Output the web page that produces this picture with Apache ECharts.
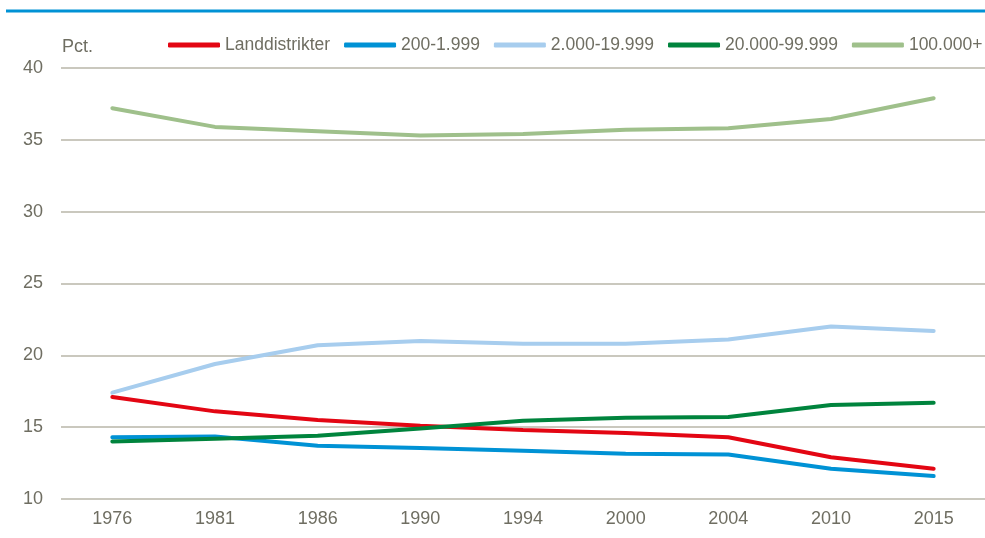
<!DOCTYPE html>
<html>
<head>
<meta charset="utf-8">
<script src="https://cdn.jsdelivr.net/npm/echarts@6/dist/echarts.min.js"></script>
<style>
  html, body { margin: 0; padding: 0; background: #fff; }
  #chart { width: 985px; height: 538px; }
</style>
</head>
<body>
<div id="chart"></div>
<script>
var years = ['1976', '1981', '1986', '1990', '1994', '2000', '2004', '2010', '2015'];
var seriesNames = ['Landdistrikter', '200-1.999', '2.000-19.999', '20.000-99.999', '100.000+'];
var landdistrikter = [17.1, 16.1, 15.5, 15.1, 14.8, 14.6, 14.3, 12.9, 12.1];
var by200 = [14.3, 14.35, 13.7, 13.55, 13.35, 13.15, 13.1, 12.1, 11.6];
var by2000 = [17.4, 19.4, 20.7, 21.0, 20.8, 20.8, 21.1, 22.0, 21.7];
var by20000 = [14.0, 14.2, 14.4, 14.9, 15.45, 15.65, 15.7, 16.55, 16.7];
var by100000 = [37.2, 35.9, 35.6, 35.3, 35.4, 35.7, 35.8, 36.45, 37.9];
var colors = ['#e30613', '#0092d5', '#a7cdee', '#00843d', '#9fc08b'];

var font = 'Liberation Sans, Arial, sans-serif';
var textColor = '#6f6e62';

var myChart = echarts.init(document.getElementById('chart'));

function line(name, data, color) {
  return {
    name: name,
    type: 'line',
    data: data,
    showSymbol: false,
    symbol: 'none',
    lineStyle: { width: 4, color: color, cap: 'round' },
    itemStyle: { color: color }
  };
}

var option = {
  animation: false,
  color: colors,
  title: {
    text: 'Pct.',
    left: 57,
    top: 33,
    textStyle: { fontFamily: font, fontSize: 18, fontWeight: 'normal', color: textColor }
  },
  legend: {
    data: seriesNames,
    left: 168,
    top: 36,
    width: 900,
    padding: 0,
    icon: 'roundRect',
    itemWidth: 52,
    itemHeight: 5,
    itemGap: 14,
    textStyle: { fontFamily: font, fontSize: 17.5, color: textColor }
  },
  grid: { left: 61, top: 68, width: 929, height: 431 },
  xAxis: {
    type: 'category',
    data: years,
    boundaryGap: true,
    axisLine: { show: false },
    axisTick: { show: false },
    axisLabel: { fontFamily: font, fontSize: 18, color: textColor, margin: 11 }
  },
  yAxis: {
    type: 'value',
    min: 10,
    max: 40,
    interval: 5,
    axisLine: { show: false },
    axisTick: { show: false },
    axisLabel: { fontFamily: font, fontSize: 18, color: textColor, margin: 18 },
    splitLine: { lineStyle: { color: '#b8b6a8', width: 1.5 } }
  },
  graphic: [{
    type: 'line',
    shape: { x1: 6, y1: 11, x2: 985, y2: 11 },
    style: { stroke: '#0092d5', lineWidth: 3 }
  }],
  series: [
    line(seriesNames[0], landdistrikter, colors[0]),
    line(seriesNames[1], by200, colors[1]),
    line(seriesNames[2], by2000, colors[2]),
    line(seriesNames[3], by20000, colors[3]),
    line(seriesNames[4], by100000, colors[4])
  ]
};

myChart.setOption(option);
</script>
</body>
</html>
